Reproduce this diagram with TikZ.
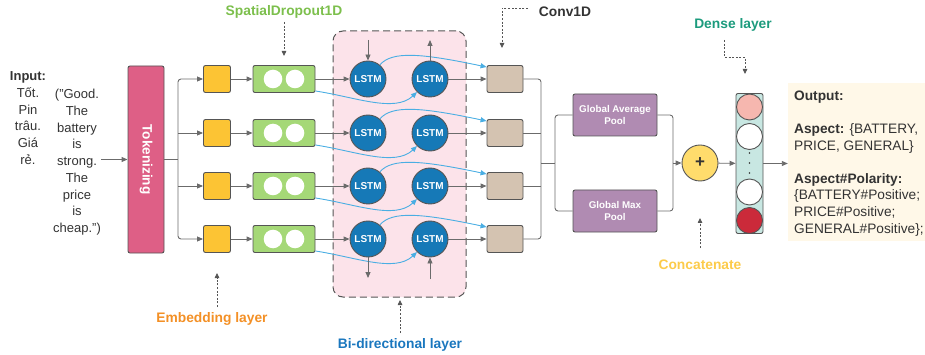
\documentclass[tikz,border=0pt]{standalone}
\usepackage{fontspec}
\setmainfont{Liberation Sans}
\usetikzlibrary{arrows.meta,calc}
\definecolor{lg}{HTML}{6B6B6B}
\definecolor{bd}{HTML}{555555}
\definecolor{txt}{HTML}{333333}
\definecolor{tokc}{HTML}{DE5F86}
\definecolor{embc}{HTML}{FCC434}
\definecolor{spc}{HTML}{A5D877}
\definecolor{lstmc}{HTML}{1679B7}
\definecolor{regc}{HTML}{FCE3EA}
\definecolor{convc}{HTML}{D4C3B1}
\definecolor{poolc}{HTML}{B08BB2}
\definecolor{plusc}{HTML}{FFDC6C}
\definecolor{densec}{HTML}{C8E7E2}
\definecolor{d1c}{HTML}{F6B7AF}
\definecolor{d4c}{HTML}{CB2A3A}
\definecolor{outc}{HTML}{FFF8E8}
\definecolor{lbc}{HTML}{4AAEE3}
\definecolor{spl}{HTML}{7CBF4C}
\definecolor{embl}{HTML}{F39026}
\definecolor{bil}{HTML}{1A77BE}
\definecolor{dnl}{HTML}{1C9B7D}
\definecolor{ccl}{HTML}{FCCB4A}
\begin{document}
\begin{tikzpicture}[x=1pt,y=-1pt,
  tip/.tip={Triangle[length=6pt,width=5pt]},
  conn/.style={draw=lg, line width=0.9pt, -tip},
  plain/.style={draw=lg, line width=0.9pt},
  bus/.style={draw=lg, line width=0.9pt, rounded corners=3pt},
  bluec/.style={draw=lbc, line width=0.9pt, -{Triangle[length=6pt,width=5pt]}},
  dotarr/.style={draw=bd, line width=0.8pt, dash pattern=on 2pt off 1.6pt, -{Triangle[length=5pt,width=4.5pt]}},
  box/.style={draw=bd, line width=0.9pt, rounded corners=2pt, inner sep=0pt},
  embbox/.style={box, fill=embc, minimum width=27pt, minimum height=27pt},
  spbox/.style={box, fill=spc, minimum width=62pt, minimum height=27pt},
  wcirc/.style={circle, fill=white, minimum size=18.6pt, inner sep=0pt},
  lstm/.style={circle, draw=bd, line width=0.9pt, fill=lstmc, minimum size=36pt, inner sep=0pt, text=white, font=\bfseries\fontsize{10}{10}\selectfont},
  convbox/.style={box, fill=convc, minimum width=36pt, minimum height=27pt},
  pool/.style={box, fill=poolc, minimum width=84pt, minimum height=42pt, text=white, align=center, font=\bfseries\fontsize{9.8}{12}\selectfont},
  dcirc/.style={circle, draw=bd, line width=0.9pt, minimum size=26pt, inner sep=0pt},
  lbl/.style={inner sep=0pt, font=\bfseries\fontsize{13.8}{15}\selectfont},
]
\useasboundingbox (0,0) rectangle (925,355);

% region
\node[draw=bd, line width=1pt, dash pattern=on 7pt off 4pt, rounded corners=10pt, fill=regc, minimum width=133pt, minimum height=266pt, inner sep=0pt] (bi) at (399.5,164) {};

% input texts
\node[anchor=north, align=center, inner sep=0pt, text=txt, font=\fontsize{13}{16.75}\selectfont] (inl) at (28,71.5) {\textbf{Input:}\\Tốt.\\Pin\\trâu.\\Giá\\rẻ.};
\node[anchor=north, align=center, inner sep=0pt, text=txt, font=\fontsize{13}{16.75}\selectfont] (inr) at (77,89) {("Good.\\The\\battery\\is\\strong.\\The\\price\\is\\cheap.")};

% tokenizing
\node[box, fill=tokc, rotate=-90, minimum width=187pt, minimum height=36pt, text=white, font=\bfseries\fontsize{13.6}{15}\selectfont] (tok) at (146,159.5) {Tokenizing};
\coordinate (ia) at (101,159.5);
\draw[conn] (ia) -- (tok);
\coordinate (tb) at (178,159.5);
\draw[plain] (tok) -- (tb);

% rows
\foreach \i/\y in {1/79,2/133,3/186,4/239}{
  \node[embbox] (e\i) at (217,\y) {};
  \node[spbox] (s\i) at (284,\y) {};
  \node[wcirc] (wa\i) at (273,\y) {};
  \node[wcirc] (wb\i) at (295,\y) {};
  \node[lstm] (la\i) at (368,\y) {LSTM};
  \node[lstm] (lb\i) at (430,\y) {LSTM};
  \node[convbox] (c\i) at (505,\y) {};
  \draw[conn] (e\i) -- (s\i);
  \draw[conn] (s\i) -- (la\i);
  \draw[conn] (lb\i) -- (c\i);
  \draw[bluec] (la\i.50) .. controls (392,\y-28) and (420,\y-26) .. ($(c\i.west)+(0,-12)$);
  \draw[bluec] ($(s\i.east)+(0,12)$) .. controls (355,\y+18) and (395,\y+34) .. (lb\i.225);
}

% tokenizing bus
\draw[conn, rounded corners=3pt] (tb) |- (e1);
\draw[conn, rounded corners=3pt] (tb) |- (e4);
\draw[conn] (tb |- e2) -- (e2);
\draw[conn] (tb |- e3) -- (e3);

% vertical LSTM arrows
\coordinate (t1) at (368,40);
\coordinate (t2) at (430,40);
\coordinate (b1) at (368,278);
\coordinate (b2) at (430,279);
\draw[conn] (t1) -- (la1);
\draw[conn] (lb1) -- (t2);
\draw[conn] (la4) -- (b1);
\draw[conn] (b2) -- (lb4);

% conv bus
\coordinate (cb) at (541,163);
\coordinate (pb) at (555,163);
\draw[bus] (c1) -| (cb);
\draw[bus] (c4) -| (cb);
\draw[plain] (c2) -- (c2 -| cb);
\draw[plain] (c3) -- (c3 -| cb);
\draw[plain] (cb) -- (pb);

% pools
\node[pool] (gap) at (615,115) {Global Average\\Pool};
\node[pool] (gmp) at (615,211) {Global Max\\Pool};
\draw[bus] (gap) -| (pb);
\draw[bus] (gmp) -| (pb);
\coordinate (qb) at (673,163);
\draw[bus] (gap) -| (qb);
\draw[bus] (gmp) -| (qb);

% concatenate
\node[circle, draw=bd, line width=0.9pt, fill=plusc, minimum size=36pt, inner sep=0pt, font=\bfseries\fontsize{17}{17}\selectfont, text=txt] (plus) at (700,163) {+};
\draw[conn] (qb) -- (plus);

% dense
\node[box, fill=densec, minimum width=27pt, minimum height=140pt] (dense) at (749.5,163.5) {};
\node[dcirc, fill=d1c] (d1) at (749.5,107) {};
\node[dcirc, fill=white] (d2) at (749.5,136.5) {};
\node[dcirc, fill=white] (d3) at (749.5,192) {};
\node[dcirc, fill=d4c] (d4) at (749.5,220.5) {};
\foreach \yy in {153,163,173}{\fill[txt] (749.5,\yy) circle (0.9pt);}
\draw[conn] (plus) -- (dense);

% output
\node[fill=outc, minimum width=137pt, minimum height=158pt, inner sep=0pt] (out) at (856.5,162) {};
\draw[conn] (dense.east) -- (dense.east -| out.west);
\node[anchor=north west, align=left, inner sep=0pt, text=txt, font=\fontsize{13.7}{16.6}\selectfont] (otx) at (794,90.5) {\textbf{Output:}\\[16.6pt]\textbf{Aspect:} \{BATTERY,\\PRICE, GENERAL\}\\[16.6pt]\textbf{Aspect\#Polarity:}\\\{BATTERY\#Positive;\\PRICE\#Positive;\\GENERAL\#Positive\};};

% labels
\node[lbl, text=spl] (lsp) at (284,12) {SpatialDropout1D};
\coordinate (sp0) at (284,22);
\coordinate (sp1) at (284,56);
\draw[dotarr] (sp0) -- (sp1);

\node[lbl, text=txt] (lcv) at (565,12) {Conv1D};
\coordinate (cv0) at (528,8);
\coordinate (cv1) at (502,48);
\draw[dotarr] (cv0) -| (cv1);

\node[lbl, text=dnl] (ldn) at (733,25) {Dense layer};
\coordinate (dn0) at (724,40);
\coordinate (dn1) at (745,57);
\coordinate (dn2) at (745,74);
\draw[dotarr] (dn0) |- (dn1) -- (dn2);

\node[lbl, text=ccl] (lcc) at (700,265) {Concatenate};
\coordinate (cc0) at (700,248);
\coordinate (cc1) at (700,218);
\draw[dotarr] (cc0) -- (cc1);

\node[lbl, text=embl] (lem) at (212,319) {Embedding layer};
\coordinate (em0) at (217,307);
\coordinate (em1) at (217,273);
\draw[dotarr] (em0) -- (em1);

\node[lbl, text=bil] (lbi) at (400,345) {Bi-directional layer};
\coordinate (bi0) at (400,333);
\coordinate (bi1) at (400,300);
\draw[dotarr] (bi0) -- (bi1);
\end{tikzpicture}
\end{document}
